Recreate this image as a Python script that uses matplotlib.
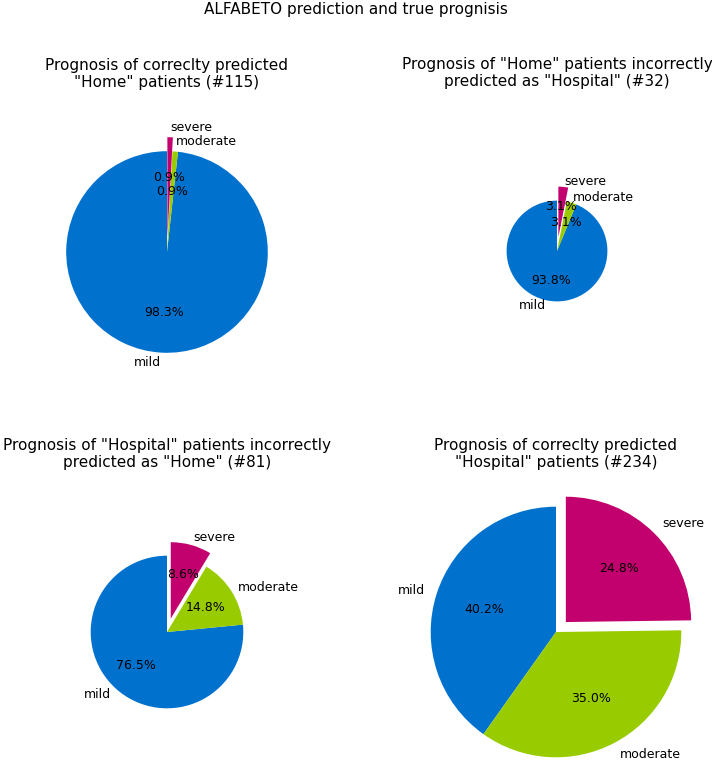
import matplotlib
import matplotlib.pyplot as plt

matplotlib.use('Agg')

# severity classes and patient counts per group
categories = ['mild', 'moderate', 'severe']
home_correct = [113, 1, 1]
home_as_hospital = [30, 1, 1]
hospital_as_home = [62, 12, 7]
hospital_correct = [94, 82, 58]

titles = [
    'Prognosis of correclty predicted\n"Home" patients (#115)',
    'Prognosis of "Home" patients incorrectly\npredicted as "Hospital" (#32)',
    'Prognosis of "Hospital" patients incorrectly\npredicted as "Home" (#81)',
    'Prognosis of correclty predicted\n"Hospital" patients (#234)',
]
suptitle = 'ALFABETO prediction and true prognisis'

colors = ['#0072CE', '#99CC00', '#C2006E']
explode = [0, 0, 0.1]

# layout: pie centers in pixels, pie radius in data units
fig_w, fig_h = 712, 761
box = 300
scale = 140.0
centers = [(167, 252), (557, 251), (167, 632), (556, 632)]
radii = [0.72, 0.36, 0.545, 0.895]

fig = plt.figure(figsize=(fig_w / 100, fig_h / 100), dpi=100)
fig.suptitle(suptitle, fontsize=11, y=0.997)

groups = [home_correct, home_as_hospital, hospital_as_home, hospital_correct]
lim = box / 2 / scale
for values, title, (cx, cy), r in zip(groups, titles, centers, radii):
    rect = [(cx - box / 2) / fig_w, (fig_h - cy - box / 2) / fig_h,
            box / fig_w, box / fig_h]
    ax = fig.add_axes(rect)
    ax.pie(values, labels=categories, colors=colors, explode=explode,
           autopct='%1.1f%%', startangle=90, radius=r,
           textprops={'fontsize': 9})
    ax.set_xlim(-lim, lim)
    ax.set_ylim(-lim, lim)
    ax.set_aspect('equal')
    ax.set_title(title, fontsize=11, pad=10.5)

fig.savefig('out.png', dpi=100)
plt.close(fig)
